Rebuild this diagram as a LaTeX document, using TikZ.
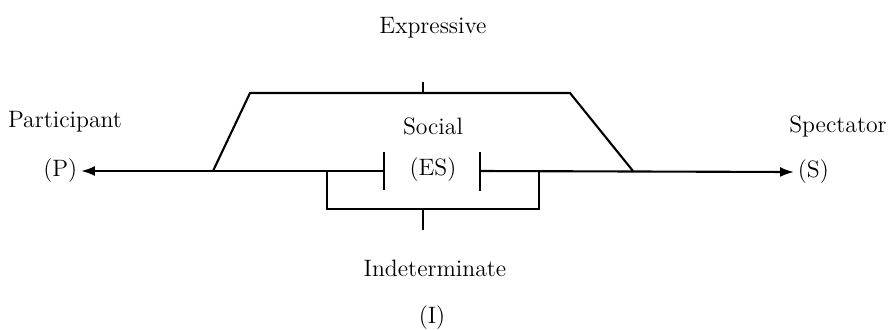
\documentclass[tikz,border=0pt]{standalone}
\usetikzlibrary{arrows.meta, positioning}

\begin{document}
\begin{tikzpicture}[
    x=0.02cm, y=-0.02cm,
    font=\fontsize{13.5}{16}\selectfont,
    % Text labels
    label/.style={
        inner sep=2pt,
        align=center
    },
    % Connecting lines
    line/.style={
        draw=black,
        line width=1.2pt
    },
    % Axis arrows
    axis/.style={
        line,
        -{Latex[length=2.8mm, width=2mm]}
    }
]
\useasboundingbox (0,0) rectangle (895,329);

% --- LABELS ---
\node[label] (Expressive) at (433,28) {Expressive};
\node[label] (Social) at (433,126) {Social};
\node[label] (ES) at (433,170) {(ES)};
\node[label] (Participant) at (65,122) {Participant};
\node[label, anchor=east] (P) at (81,171) {(P)};
\node[label] (Spectator) at (838,126) {Spectator};
\node[label, anchor=west] (S) at (794,172) {(S)};
\node[label] (Indeterminate) at (435,268) {Indeterminate};
\node[label] (I) at (432,318) {(I)};

% --- JUNCTIONS ---
\coordinate (LeftTick) at (384,171);
\coordinate (RightTick) at (480,171);
\coordinate (TrapL) at (213,171);
\coordinate (TrapR) at (633,171);
\coordinate (BrackL) at (327,171);
\coordinate (BrackR) at (539,171);

% --- AXIS ---
\draw[axis] (LeftTick) -- (P.east);
\draw[axis] (RightTick) -- (S.west);
\draw[line] (384,152) -- (384,190);
\draw[line] (480,152) -- (480,191);

% --- EXPRESSIVE TRAPEZOID ---
\draw[line] (TrapL) -- (250,93) coordinate (TrapTL) -- (570,93) coordinate (TrapTR) -- (TrapR);
\draw[line] (423,93) -- (423,82);

% --- INDETERMINATE BRACKET ---
\draw[line] (BrackL) -- (327,209) -- (539,209) -- (BrackR);
\draw[line] (423,209) -- (423,230);

\end{tikzpicture}
\end{document}
